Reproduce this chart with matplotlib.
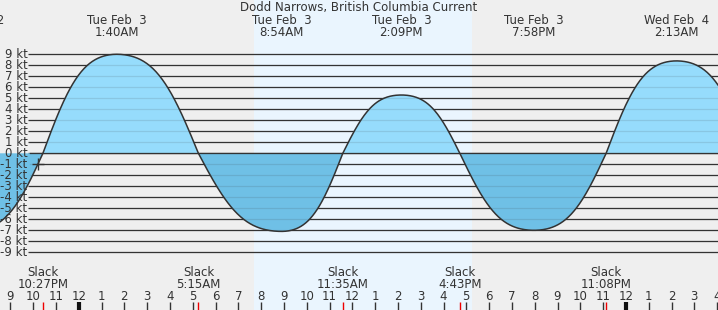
import matplotlib
matplotlib.use("Agg")
import matplotlib.pyplot as plt
import numpy as np

# ---- data (hours relative to Tue Feb 3 00:00) ----
event_hours = [-4.68, -1.57, 1.667, 5.25, 8.9, 11.583, 14.15, 16.717, 19.967, 23.133, 26.217, 29.45]
event_speeds = [-7.0, 0.0, 9.0, 0.0, -7.1, 0.0, 5.3, 0.0, -7.0, 0.0, 8.4, 0.0]

peak_hours = [-4.68, 1.667, 8.9, 14.15, 19.967, 26.217]
peak_days = ["Mon Feb  2", "Tue Feb  3", "Tue Feb  3", "Tue Feb  3", "Tue Feb  3", "Wed Feb  4"]
peak_times = ["7:19PM", "1:40AM", "8:54AM", "2:09PM", "7:58PM", "2:13AM"]

slack_hours = [-1.55, 5.25, 11.583, 16.717, 23.133]
slack_times = ["10:27PM", "5:15AM", "11:35AM", "4:43PM", "11:08PM"]

kt_levels = list(range(9, -10, -1))
hour_ticks = list(range(-3, 29))
day_start, day_end = 7.69, 17.24
now_hour, now_speed = -1.785, -1.0

title = "Dodd Narrows, British Columbia Current"

# ---- layout (pixel mapping) ----
W, H = 718, 310
x0px, pxh = 78.7, 22.8      # midnight pixel, px per hour
y0px, pxk = 153.3, 11.0     # zero kt pixel, px per kt
def hx(px): return (px - x0px) / pxh
def ky(py): return (y0px - py) / pxk

fig = plt.figure(figsize=(W / 100, H / 100), dpi=100)
fig.patch.set_facecolor("#efefef")
ax = fig.add_axes([0, 0, 1, 1])
ax.set_xlim(hx(0), hx(W))
ax.set_ylim(ky(H), ky(0))
ax.axis("off")
ax.set_facecolor("#efefef")

# daylight band
ax.axvspan(day_start, day_end, color="#eaf5fe", zorder=0, lw=0)

# curve shape between slack (f=0) and peak (f=1)
def shape(f):
    b = 0.07
    return (1 + b) * np.sin(f * np.pi / 2) + b * np.sin(3 * f * np.pi / 2)

t_all, v_all = [], []
for i in range(len(event_hours) - 1):
    ta, tb = event_hours[i], event_hours[i + 1]
    va, vb = event_speeds[i], event_speeds[i + 1]
    s = np.linspace(0, 1, 80)
    if va == 0:
        v = vb * shape(s)
    else:
        v = va * shape(1 - s)
    t_all.append(ta + s * (tb - ta))
    v_all.append(v)
t = np.concatenate(t_all)
v = np.concatenate(v_all)

grid_x0 = hx(30)
grid_x1 = hx(W + 5)
for k in kt_levels:
    ax.plot([hx(27.5), grid_x1], [k, k], color="#333333", lw=0.9, zorder=1, solid_capstyle="butt")
    ax.text(hx(27.5), k, f"{k} kt", ha="right", va="center", fontsize=8.5, color="#333333", zorder=6)

ax.fill_between(t, 0, v, where=v >= 0, interpolate=True, color="#96dcfc", lw=0, zorder=2)
ax.fill_between(t, 0, v, where=v <= 0, interpolate=True, color="#6fc0e6", lw=0, zorder=2)

# faint grid lines over fill
for k in kt_levels:
    ax.plot([grid_x0, grid_x1], [k, k], color="#333333", alpha=0.13, lw=0.9, zorder=3)
ax.plot([grid_x0, grid_x1], [0, 0], color="#333333", lw=0.9, zorder=4)

ax.plot(t, v, color="#333333", lw=1.1, zorder=5)

# current-time marker
ax.plot([now_hour], [now_speed], marker="+", color="#333333", ms=9, mew=1.0, zorder=6)

# title and peak labels
ax.text(hx(W / 2), ky(8), title, ha="center", va="center", fontsize=8.5, color="#333333")
for h, d, tm in zip(peak_hours, peak_days, peak_times):
    ax.text(h, ky(20), d, ha="center", va="center", fontsize=8.5, color="#333333", clip_on=False)
    ax.text(h, ky(32), tm, ha="center", va="center", fontsize=8.5, color="#333333", clip_on=False)

# slack labels
for h, tm in zip(slack_hours, slack_times):
    ax.text(h, ky(272), "Slack", ha="center", va="center", fontsize=8.5, color="#333333")
    ax.text(h, ky(284), tm, ha="center", va="center", fontsize=8.5, color="#333333")

# hour ticks
for h in hour_ticks:
    hr = h % 12
    lab = "12" if hr == 0 else str(hr)
    ax.text(h, ky(296), lab, ha="center", va="center", fontsize=8.5, color="#333333")
    if h % 24 == 0:
        ax.plot([h, h], [ky(302), ky(311)], color="#111111", lw=3.0, solid_capstyle="butt")
    else:
        ax.plot([h, h], [ky(302), ky(311)], color="#333333", lw=1.0, solid_capstyle="butt")
for h in slack_hours:
    ax.plot([h, h], [ky(302), ky(311)], color="#ee0000", lw=1.0, solid_capstyle="butt")

fig.savefig("out.png", dpi=100, facecolor=fig.get_facecolor())
